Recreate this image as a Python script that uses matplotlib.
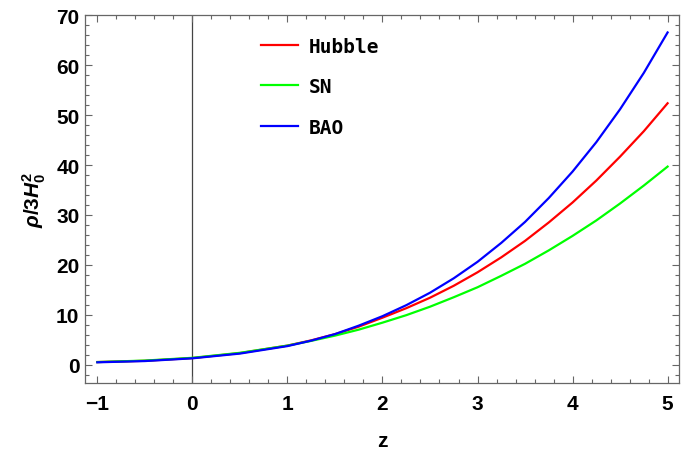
"""Energy density rho/3H0^2 versus redshift for Hubble, SN and BAO fits."""

import matplotlib

matplotlib.use("Agg")
import matplotlib.pyplot as plt
from matplotlib.ticker import MultipleLocator

plt.rcParams["mathtext.fontset"] = "custom"
plt.rcParams["mathtext.rm"] = "Liberation Sans:bold"
plt.rcParams["mathtext.it"] = "Liberation Sans:bold:italic"

z = [-1.0, -0.5, 0.0, 0.5, 1.0, 1.25, 1.5, 1.75, 2.0, 2.25, 2.5, 2.75,
     3.0, 3.25, 3.5, 3.75, 4.0, 4.25, 4.5, 4.75, 5.0]
rho_hubble = [0.5, 0.75, 1.3, 2.3, 3.8, 4.85, 6.1, 7.6, 9.4, 11.3, 13.4, 15.8,
              18.5, 21.5, 24.8, 28.5, 32.5, 36.9, 41.7, 46.8, 52.4]
rho_sn = [0.5, 0.8, 1.35, 2.35, 3.8, 4.75, 5.8, 7.0, 8.4, 9.9, 11.6, 13.5,
          15.5, 17.8, 20.2, 22.9, 25.8, 28.9, 32.3, 35.9, 39.7]
rho_bao = [0.45, 0.7, 1.25, 2.2, 3.7, 4.8, 6.1, 7.8, 9.7, 11.9, 14.4, 17.3,
           20.6, 24.4, 28.6, 33.4, 38.7, 44.6, 51.2, 58.5, 66.6]

series = [
    ("Hubble", rho_hubble, (1, 0, 0)),
    ("SN", rho_sn, (0, 1, 0)),
    ("BAO", rho_bao, (0, 0, 1)),
]

fig = plt.figure(figsize=(6.89, 4.52), dpi=100)
ax = fig.add_axes([85 / 689, 1 - 384 / 452, 594 / 689, 368 / 452])

ax.axvline(0, color="#444444", linewidth=0.9, zorder=1)
for name, vals, color in series:
    ax.plot(z, vals, color=color, linewidth=1.6, label=name, zorder=2)

ax.set_xlim(-1.13, 5.12)
ax.set_ylim(-3.7, 70.1)
ax.xaxis.set_major_locator(MultipleLocator(1))
ax.xaxis.set_minor_locator(MultipleLocator(0.2))
ax.yaxis.set_major_locator(MultipleLocator(10))
ax.yaxis.set_minor_locator(MultipleLocator(2))

for spine in ax.spines.values():
    spine.set_color("#666666")
    spine.set_linewidth(0.9)
ax.tick_params(which="both", direction="in", top=True, right=True,
               color="#666666", width=0.8)
ax.tick_params(which="major", length=5)
ax.tick_params(which="minor", length=3)
ax.tick_params(axis="x", which="major", pad=8)
ax.tick_params(axis="y", which="major", pad=4)
for lab in ax.get_xticklabels() + ax.get_yticklabels():
    lab.set_family("Liberation Sans")
    lab.set_fontweight("bold")
    lab.set_fontsize(15)

ax.set_xlabel("z", family="Liberation Sans", fontweight="bold", fontsize=15,
              labelpad=13)
ax.set_ylabel(r"$\rho/3H_0^2$", fontsize=15, labelpad=6)

ax.legend(loc="upper left", bbox_to_anchor=(0.267, 0.988), frameon=False,
          handlelength=1.9, handletextpad=0.55, labelspacing=1.1,
          prop={"family": "DejaVu Sans Mono", "weight": "bold", "size": 14})

fig.savefig("out.png", dpi=100)
plt.close(fig)
